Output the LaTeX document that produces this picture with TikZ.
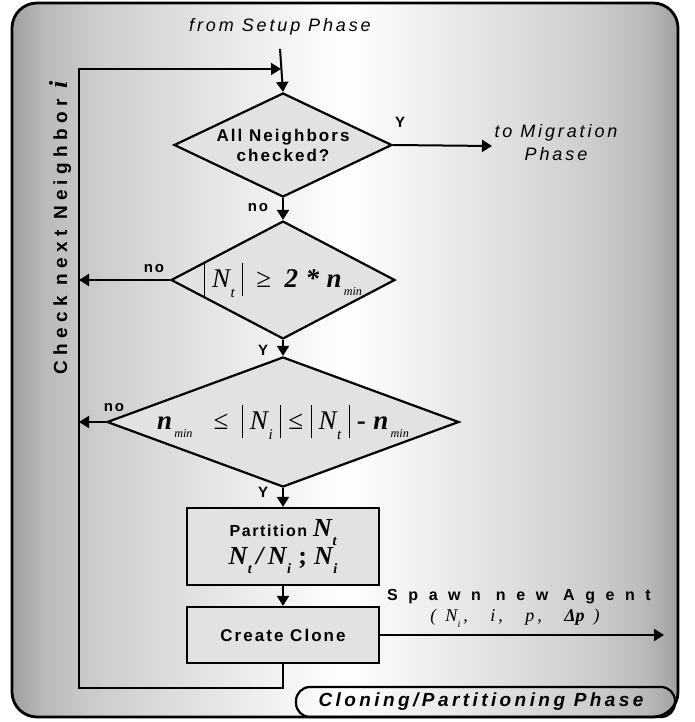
\documentclass[tikz,border=0pt]{standalone}
\usepackage{fontspec}
\setmainfont{Liberation Sans}
\newfontfamily\serif{Liberation Serif}
\usetikzlibrary{arrows.meta, positioning, shapes.geometric}
\definecolor{grisA}{RGB}{160,160,160}
\definecolor{grisB}{RGB}{186,186,186}
\definecolor{grisC}{RGB}{205,205,205}
\definecolor{grisD}{RGB}{226,226,226}
\definecolor{remplissage}{RGB}{226,226,226}
\pgfdeclarehorizontalshading{fond}{100bp}{color(0bp)=(grisA); color(25bp)=(grisA);
  color(27.5bp)=(grisB); color(31.5bp)=(grisC); color(39bp)=(grisD); color(50bp)=(white);
  color(61bp)=(grisD); color(68.5bp)=(grisC); color(72.5bp)=(grisB); color(75bp)=(grisA);
  color(100bp)=(grisA)}
% variable avec indice
\newcommand{\ital}[2]{{\serif\itshape #1}\kern.02em\raisebox{-.35em}{\scalebox{.55}{\serif\itshape #2}}}
\newcommand{\barre}{\rule[-.32em]{.6pt}{1.25em}}
\newcommand{\nmin}{{\serif\bfseries\itshape n}\kern.08em\raisebox{-.3em}{\scalebox{.45}{\serif\itshape min}}}

\begin{document}
\begin{tikzpicture}[x=1pt, y=-1pt,
    test/.style={diamond, draw, line width=2.2pt, fill=remplissage, inner sep=0pt},
    bloc/.style={rectangle, draw, line width=2.2pt, fill=remplissage,
                 minimum width=192pt, align=center},
    fleche/.style={-{Triangle[length=10pt,width=12pt]}, line width=2pt},
    rep/.style={font={\fontsize{15}{15}\selectfont\bfseries\addfontfeatures{LetterSpace=12}}},
    phase/.style={font={\fontsize{18}{23}\selectfont\itshape\addfontfeatures{LetterSpace=16}},
                  align=center}
  ]
    \useasboundingbox (0,0) rectangle (695,722);

    % Cadre
    \shade[shading=fond, rounded corners=25pt] (12,3) rectangle (678,717);
    \draw[line width=2.8pt, rounded corners=25pt] (12,3) rectangle (678,717);
    \draw[line width=2.2pt, rounded corners=14pt] (296,687) rectangle (675,717);
    \node[font={\fontsize{19}{19}\selectfont\bfseries\itshape\addfontfeatures{LetterSpace=18}}]
      (titre) at (481,702) {Cloning/Partitioning Phase};

    % Noeuds
    \node[phase] (setup) at (280,27) {from Setup Phase};
    \node[test, shape aspect=2.1, minimum width=218pt, minimum height=104pt,
          font={\fontsize{17}{20}\selectfont\bfseries\addfontfeatures{LetterSpace=12}}, align=center]
      (d1) at (283,145) {All Neighbors\\checked?};
    \node[test, shape aspect=1.9, minimum width=222pt, minimum height=116pt,
          font=\fontsize{27}{27}\selectfont]
      (d2) at (283,280)
      {\barre\;\ital{N}{t}\;\barre\enspace{\serif≥}\enspace{\serif\bfseries\itshape 2\;*\;}\nmin};
    \node[test, shape aspect=2.7, minimum width=352pt, minimum height=130pt,
          font=\fontsize{27}{27}\selectfont]
      (d3) at (283,422)
      {\nmin\enspace\;{\serif≤}\enspace\barre\;\ital{N}{i}\;\barre\;{\serif≤}\;\barre\;\ital{N}{t}\;\barre\;{\serif\bfseries -}\;\nmin};
    \node[bloc, minimum height=77pt,
          font={\fontsize{16}{32}\selectfont\bfseries\addfontfeatures{LetterSpace=10}}]
      (part) at (283,546.5)
      {Partition {\fontsize{26}{26}\selectfont\ital{N}{t}}\\[-4pt]
       {\fontsize{26}{26}\selectfont\ital{N}{t}\,{\serif\itshape /}\,\ital{N}{i}\;{\serif\bfseries;}\;\ital{N}{i}}};
    \node[bloc, minimum height=56pt,
          font={\fontsize{17}{17}\selectfont\bfseries\addfontfeatures{LetterSpace=12}}]
      (clone) at (283,635) {Create Clone};

    \node[phase] (migr) at (556,143) {to Migration\\Phase};
    \coordinate (sortie) at (492,146);
    \coordinate (agent) at (664,635);
    \coordinate (coin) at (79,688);
    \coordinate (entree) at (281,69);

    \node[font={\fontsize{16}{16}\selectfont\bfseries\addfontfeatures{LetterSpace=66}}]
      (spawn) at (519,597) {Spawn new Agent};
    \node[font=\fontsize{18}{18}\selectfont\serif\itshape]
      (param) at (515,618)
      {(\enspace\ital{N}{i}\,,\quad\ i\,,\quad\ p\,,\quad\ {\bfseries Δp}\enspace)};

    \node[rotate=90, font={\fontsize{19}{19}\selectfont\bfseries\addfontfeatures{LetterSpace=28}}]
      (voisin) at (60,228) {Check next Neighbor {\serif\itshape\fontsize{26}{26}\selectfont i}};

    % Reponses
    \node[rep] (oui1) at (400,122) {Y};
    \node[rep] (non1) at (258,208) {no};
    \node[rep] (non2) at (154,269) {no};
    \node[rep] (oui2) at (263,350) {Y};
    \node[rep] (non3) at (114,408) {no};
    \node[rep] (oui3) at (263,492) {Y};

    % Fleches
    \draw[fleche] ([yshift=-10pt]setup.south) -- (d1.north);
    \draw[fleche] (d1.east) -- (sortie);
    \draw[fleche] (d1.south) -- (d2.north);
    \draw[fleche] (d2.south) -- (d3.north);
    \draw[fleche] (d3.south) -- (part.north);
    \draw[fleche] (part.south) -- (clone.north);
    \draw[fleche] (clone.east) -- (agent);
    \draw[fleche] (d2.west) -- (d2.west -| coin);
    \draw[fleche] (d3.west) -- (d3.west -| coin);
    \draw[fleche] (clone.south) |- (coin) |- (entree);
  \end{tikzpicture}
\end{document}
